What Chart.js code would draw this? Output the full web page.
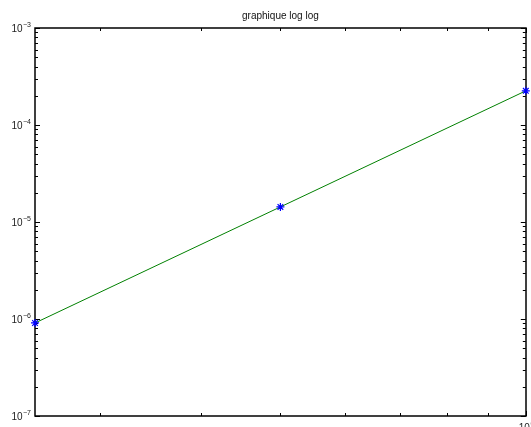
<!DOCTYPE html>
<html>
<head>
<meta charset="utf-8">
<style>
  html, body { margin: 0; padding: 0; background: #ffffff; }
  #wrap { width: 531px; height: 427px; }
</style>
<script src="https://cdn.jsdelivr.net/npm/chart.js@4"></script>
</head>
<body>
<div id="wrap"><canvas id="c" width="531" height="427"></canvas></div>
<script>
// Step sizes and the corresponding errors (log-log convergence plot)
const stepSizes = [0.25, 0.5, 1];
const errors = [9.1e-7, 1.43e-5, 2.25e-4];

// Axis ranges and tick positions
const xRange = [0.25, 1];
const yRange = [1e-7, 1e-3];
const xMinorTicks = [0.3, 0.4, 0.5, 0.6, 0.7, 0.8, 0.9];
const xMajorTicks = [1];
const xMajorExponents = [0];
const yDecadeExponents = [-7, -6, -5, -4, -3];

const titleText = 'graphique log log';
const fontFamily = '"Liberation Sans", Arial, Helvetica, sans-serif';

// draws "10" with a superscript exponent; left edge at x, digit baseline at y
function drawPower(ctx, x, y, exp) {
  const base = '10';
  const sup = String(exp).replace('-', '\u2212');
  ctx.textAlign = 'left';
  ctx.textBaseline = 'alphabetic';
  ctx.font = '10px ' + fontFamily;
  const wb = ctx.measureText(base).width;
  ctx.fillText(base, x, y);
  ctx.font = '7px ' + fontFamily;
  ctx.fillText(sup, x + wb + 0.5, y - 5);
}

function powerWidth(ctx, exp) {
  const sup = String(exp).replace('-', '\u2212');
  ctx.font = '10px ' + fontFamily;
  const wb = ctx.measureText('10').width;
  ctx.font = '7px ' + fontFamily;
  return wb + 0.5 + ctx.measureText(sup).width;
}

const axesPlugin = {
  id: 'matlabAxes',
  beforeDatasetsDraw(chart) {
    const ctx = chart.ctx;
    const xs = chart.scales.x, ys = chart.scales.y;
    const a = chart.chartArea;
    ctx.save();
    ctx.strokeStyle = '#000000';
    ctx.fillStyle = '#000000';
    ctx.lineWidth = 1;

    // tick marks on all four sides, pointing inwards
    ctx.beginPath();
    yDecadeExponents.forEach((e, i) => {
      const v = Math.pow(10, e);
      const py = Math.round(ys.getPixelForValue(v)) + 0.5;
      ctx.moveTo(a.left, py); ctx.lineTo(a.left + 5, py);
      ctx.moveTo(a.right, py); ctx.lineTo(a.right - 5, py);
      if (i < yDecadeExponents.length - 1) {
        for (let k = 2; k <= 9; k++) {
          const pm = Math.round(ys.getPixelForValue(k * v)) + 0.5;
          ctx.moveTo(a.left, pm); ctx.lineTo(a.left + 3, pm);
          ctx.moveTo(a.right, pm); ctx.lineTo(a.right - 3, pm);
        }
      }
    });
    xMinorTicks.forEach(v => {
      const px = Math.round(xs.getPixelForValue(v)) + 0.5;
      ctx.moveTo(px, a.bottom); ctx.lineTo(px, a.bottom - 3);
      ctx.moveTo(px, a.top); ctx.lineTo(px, a.top + 3);
    });
    xMajorTicks.forEach(v => {
      const px = Math.round(xs.getPixelForValue(v)) + 0.5;
      ctx.moveTo(px, a.bottom); ctx.lineTo(px, a.bottom - 5);
      ctx.moveTo(px, a.top); ctx.lineTo(px, a.top + 5);
    });
    ctx.stroke();

    // axes box
    ctx.lineWidth = 1.5;
    ctx.strokeRect(Math.round(a.left), Math.round(a.top),
                   Math.round(a.right) - Math.round(a.left),
                   Math.round(a.bottom) - Math.round(a.top));

    // tick labels
    ctx.fillStyle = '#222222';
    yDecadeExponents.forEach(e => {
      const py = ys.getPixelForValue(Math.pow(10, e));
      drawPower(ctx, a.left - 4 - powerWidth(ctx, e), py + 4, e);
    });
    xMajorTicks.forEach((v, i) => {
      const px = xs.getPixelForValue(v);
      drawPower(ctx, px - 7, a.bottom + 15, xMajorExponents[i]);
    });

    // title
    ctx.font = '10px ' + fontFamily;
    ctx.textAlign = 'center';
    ctx.textBaseline = 'alphabetic';
    ctx.fillStyle = '#111111';
    ctx.fillText(titleText, (a.left + a.right) / 2, a.top - 9);
    ctx.restore();
  }
};

new Chart(document.getElementById('c'), {
  type: 'scatter',
  data: {
    datasets: [
      {
        label: 'erreur',
        data: stepSizes.map((x, i) => ({ x: x, y: errors[i] })),
        showLine: true,
        borderColor: '#008000',
        borderWidth: 1,
        pointStyle: 'star',
        pointRadius: 4,
        pointBorderColor: '#0000ff',
        pointBackgroundColor: '#0000ff',
        pointBorderWidth: 1.2,
        clip: false,
        order: 0
      }
    ]
  },
  options: {
    responsive: false,
    animation: false,
    devicePixelRatio: 1,
    layout: { padding: { left: 35, right: 5, top: 28, bottom: 11 } },
    plugins: {
      legend: { display: false },
      title: { display: false },
      tooltip: { enabled: false }
    },
    scales: {
      x: {
        type: 'logarithmic',
        min: xRange[0], max: xRange[1],
        bounds: 'data',
        display: false
      },
      y: {
        type: 'logarithmic',
        min: yRange[0], max: yRange[1],
        bounds: 'data',
        display: false
      }
    }
  },
  plugins: [axesPlugin]
});
</script>
</body>
</html>
